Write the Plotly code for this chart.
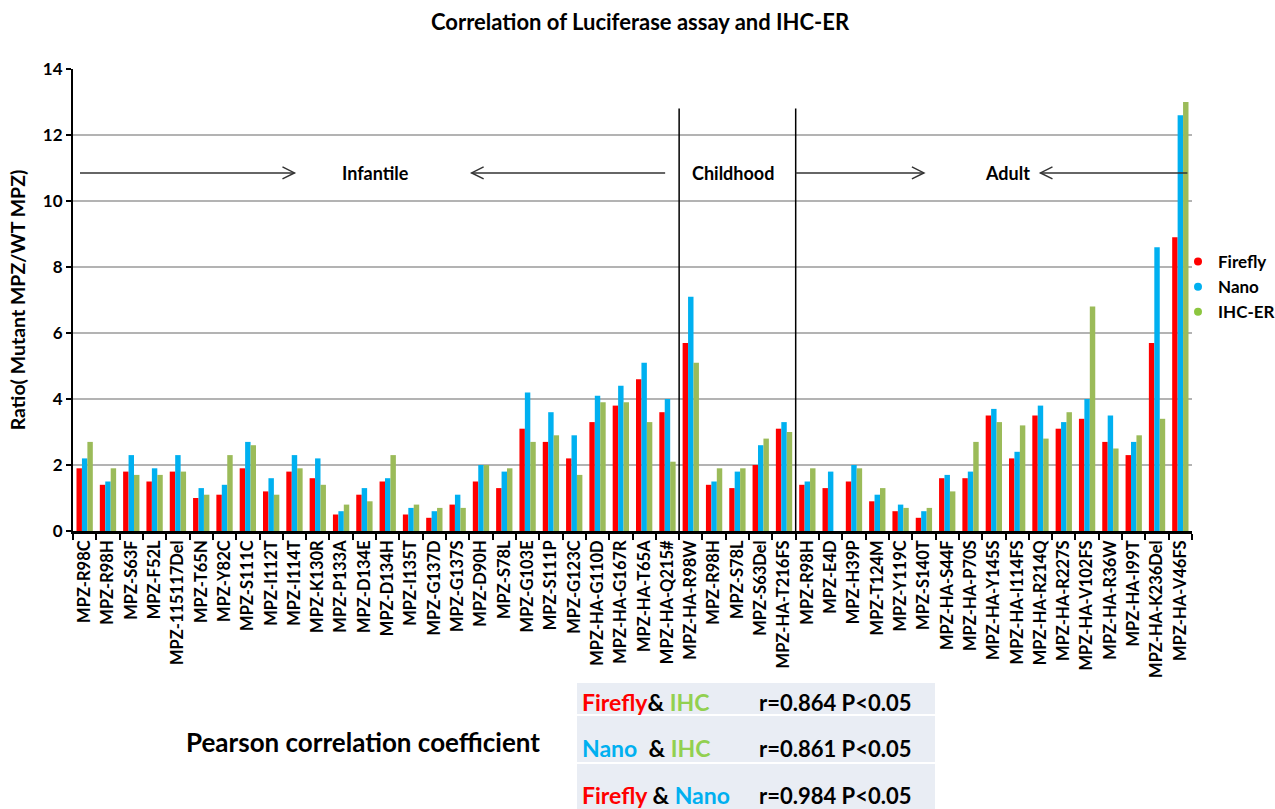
import plotly.graph_objects as go

# Mutant constructs, grouped by age of onset
infantile = ["MPZ-R98C", "MPZ-R98H", "MPZ-S63F", "MPZ-F52L", "MPZ-115117Del", "MPZ-T65N",
             "MPZ-Y82C", "MPZ-S111C", "MPZ-I112T", "MPZ-I114T", "MPZ-K130R", "MPZ-P133A",
             "MPZ-D134E", "MPZ-D134H", "MPZ-I135T", "MPZ-G137D", "MPZ-G137S", "MPZ-D90H",
             "MPZ-S78L", "MPZ-G103E", "MPZ-S111P", "MPZ-G123C", "MPZ-HA-G110D",
             "MPZ-HA-G167R", "MPZ-HA-T65A", "MPZ-HA-Q215#"]
childhood = ["MPZ-HA-R98W", "MPZ-R98H", "MPZ-S78L", "MPZ-S63Del", "MPZ-HA-T216FS"]
adult = ["MPZ-R98H", "MPZ-E4D", "MPZ-H39P", "MPZ-T124M", "MPZ-Y119C", "MPZ-S140T",
         "MPZ-HA-S44F", "MPZ-HA-P70S", "MPZ-HA-Y145S", "MPZ-HA-I114FS", "MPZ-HA-R214Q",
         "MPZ-HA-R227S", "MPZ-HA-V102FS", "MPZ-HA-R36W", "MPZ-HA-I99T", "MPZ-HA-K236Del",
         "MPZ-HA-V46FS"]
labels = infantile + childhood + adult

# Ratio (mutant MPZ / WT MPZ)
firefly = [1.9, 1.4, 1.8, 1.5, 1.8, 1.0, 1.1, 1.9, 1.2, 1.8, 1.6, 0.5, 1.1, 1.5, 0.5, 0.4,
           0.8, 1.5, 1.3, 3.1, 2.7, 2.2, 3.3, 3.8, 4.6, 3.6,
           5.7, 1.4, 1.3, 2.0, 3.1,
           1.4, 1.3, 1.5, 0.9, 0.6, 0.4, 1.6, 1.6, 3.5, 2.2, 3.5, 3.1, 3.4, 2.7, 2.3, 5.7, 8.9]
nano = [2.2, 1.5, 2.3, 1.9, 2.3, 1.3, 1.4, 2.7, 1.6, 2.3, 2.2, 0.6, 1.3, 1.6, 0.7, 0.6,
        1.1, 2.0, 1.8, 4.2, 3.6, 2.9, 4.1, 4.4, 5.1, 4.0,
        7.1, 1.5, 1.8, 2.6, 3.3,
        1.5, 1.8, 2.0, 1.1, 0.8, 0.6, 1.7, 1.8, 3.7, 2.4, 3.8, 3.3, 4.0, 3.5, 2.7, 8.6, 12.6]
ihc_er = [2.7, 1.9, 1.7, 1.7, 1.8, 1.1, 2.3, 2.6, 1.1, 1.9, 1.4, 0.8, 0.9, 2.3, 0.8, 0.7,
          0.7, 2.0, 1.9, 2.7, 2.9, 1.7, 3.9, 3.9, 3.3, 2.1,
          5.1, 1.9, 1.9, 2.8, 3.0,
          1.9, 0.0, 1.9, 1.3, 0.7, 0.7, 1.2, 2.7, 3.3, 3.2, 2.8, 3.6, 6.8, 2.5, 2.9, 3.4, 13.0]

y_ticks = [0, 2, 4, 6, 8, 10, 12, 14]

correlations = [
    (("Firefly", "#FF0000"), ("& ", "#000000"), ("IHC", "#92D050"), "r=0.864 P<0.05"),
    (("Nano", "#00B0F0"), ("  & ", "#000000"), ("IHC", "#92D050"), "r=0.861 P<0.05"),
    (("Firefly", "#FF0000"), (" & ", "#000000"), ("Nano", "#00B0F0"), "r=0.984 P<0.05"),
]

RED, BLUE, GREEN = "#FF0000", "#00B0F0", "#9BBB59"
FONT = "Lato"

W, H = 1275, 809
ML, MR, MT, MB = 73, 83, 69, 278
PW, PH = W - ML - MR, H - MT - MB


def px_x(p):
    return (p - ML) / PW


def px_y(p):
    return (H - MB - p) / PH


def bold(size, color="black"):
    return dict(family=FONT, size=size, color=color, weight="bold")


x = list(range(len(labels)))

fig = go.Figure()
for name, vals, col in [("Firefly", firefly, RED), ("Nano", nano, BLUE), ("IHC-ER", ihc_er, GREEN)]:
    fig.add_trace(go.Bar(x=x, y=vals, name=name, marker=dict(color=col, line=dict(width=0)),
                         showlegend=False))

# legend entries drawn as round dots
for name, col in [("Firefly", RED), ("Nano", BLUE), ("IHC-ER", "#8CC63F")]:
    fig.add_trace(go.Scatter(x=[None], y=[None], mode="markers", name=name,
                             marker=dict(color=col, size=8)))

n_inf, n_child = len(infantile), len(childhood)
sep1 = n_inf - 0.5
sep2 = n_inf + n_child - 0.5

shapes = []
for s in (sep1, sep2):
    shapes.append(dict(type="line", xref="x", yref="y", x0=s, x1=s, y0=0, y1=12.8,
                       line=dict(color="black", width=1.5)))

arrow_y = 10.85
arrows = [(-0.2, 9.0), (24.9, 16.6), (sep2, 36.0), (47.3, 41.0)]
for start, tip in arrows:
    shapes.append(dict(type="line", xref="x", yref="y", x0=start, x1=tip, y0=arrow_y, y1=arrow_y,
                       line=dict(color="#333333", width=1.5)))
    d = -1 if tip > start else 1
    shapes.append(dict(type="path", xref="x", yref="y", xsizemode="pixel", ysizemode="pixel",
                       xanchor=tip, yanchor=arrow_y,
                       path=f"M {d*12},6 L 0,0 L {d*12},-6",
                       line=dict(color="#333333", width=1.5)))

# correlation table backgrounds
rows_px = [(683, 714), (716, 762), (764, 809)]
for top, bot in rows_px:
    shapes.append(dict(type="rect", xref="paper", yref="paper", x0=px_x(577), x1=px_x(935),
                       y0=px_y(bot), y1=px_y(top), fillcolor="#E9EDF4", line=dict(width=0),
                       layer="below"))

annotations = []
for txt, cx in [("Infantile", 12.46), ("Childhood", 27.8), ("Adult", 39.6)]:
    annotations.append(dict(x=cx, y=arrow_y, xref="x", yref="y", text=txt, showarrow=False,
                            xanchor="center", yanchor="middle", font=bold(18)))

text_y = [702, 748, 795]
for (a, b, c, r), ty in zip(correlations, text_y):
    rich = "".join(f"<span style='color:{col}'>{t.replace(' ', '&nbsp;')}</span>"
                   for t, col in (a, b, c))
    annotations.append(dict(x=px_x(580), y=px_y(ty), xref="paper", yref="paper", text=rich,
                            showarrow=False, xanchor="left", yanchor="middle", font=bold(23)))
    annotations.append(dict(x=px_x(757), y=px_y(ty), xref="paper", yref="paper", text=r,
                            showarrow=False, xanchor="left", yanchor="middle", font=bold(22)))

annotations.append(dict(x=px_x(363), y=px_y(742), xref="paper", yref="paper",
                        text="Pearson correlation coefficient", showarrow=False,
                        xanchor="center", yanchor="middle", font=bold(26)))

fig.update_layout(
    width=W, height=H,
    margin=dict(l=ML, r=MR, t=MT, b=MB, autoexpand=False),
    paper_bgcolor="white", plot_bgcolor="white",
    barmode="group", bargap=0.3, bargroupgap=0,
    title=dict(text="Correlation of Luciferase assay and IHC-ER", x=0.502, xanchor="center",
               y=1 - 22 / H, yanchor="middle", font=bold(22)),
    legend=dict(x=px_x(1178), y=px_y(244), xanchor="left", yanchor="top",
                bgcolor="rgba(0,0,0,0)", font=bold(17), tracegroupgap=0, itemwidth=30),
    shapes=shapes, annotations=annotations,
    xaxis=dict(range=[-0.5, len(labels) - 0.5], tickmode="array", tickvals=x, ticktext=labels,
               tickangle=-90, ticks="", showgrid=False, zeroline=False,
               showline=True, linecolor="black", linewidth=2.5,
               tickfont=bold(16.5),
               minor=dict(tickmode="linear", tick0=0.5, dtick=1, ticks="outside", ticklen=6,
                          tickwidth=2, tickcolor="black", showgrid=False)),
    yaxis=dict(range=[0, 14], tickmode="array", tickvals=y_ticks, ticks="outside", ticklen=5,
               tickwidth=2, tickcolor="black", showline=True, linecolor="black", linewidth=2,
               showgrid=True, gridcolor="#B3B3B3", gridwidth=1.5, zeroline=False,
               tickfont=bold(17),
               title=dict(text="Ratio( Mutant MPZ/WT MPZ)", standoff=12, font=bold(19.5))),
)

fig.write_html("out.html")
